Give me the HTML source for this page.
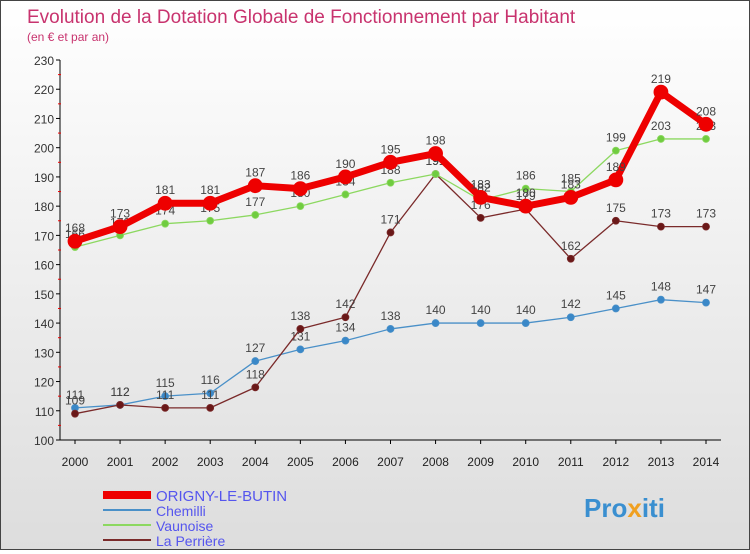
<!DOCTYPE html>
<html><head><meta charset="utf-8"><style>
body{margin:0;width:750px;height:550px;overflow:hidden;font-family:"Liberation Sans",sans-serif}
#wrap{position:relative;width:748px;height:548px;border:1px solid #444;background:linear-gradient(#fff,#ddd)}
</style></head><body>
<div id="wrap">
<svg id="svg" width="748" height="548" xmlns="http://www.w3.org/2000/svg">
<text x="26" y="22" font-size="19" fill="#c8336e">Evolution de la Dotation Globale de Fonctionnement par Habitant</text>
<text x="26" y="40" font-size="12" fill="#c8336e">(en € et par an)</text>
<g id="axes"></g><g id="series"></g>
<g>
<line x1="102" y1="494" x2="150" y2="494" stroke="#e00" stroke-width="8"/>
<text x="155" y="500" font-size="15" fill="#55e">ORIGNY-LE-BUTIN</text>
<line x1="102" y1="509" x2="150" y2="509" stroke="#4a90c8" stroke-width="2"/>
<text x="155" y="515" font-size="14" fill="#55e">Chemilli</text>
<line x1="102" y1="524" x2="150" y2="524" stroke="#8cd860" stroke-width="2"/>
<text x="155" y="530" font-size="14" fill="#55e">Vaunoise</text>
<line x1="102" y1="539" x2="150" y2="539" stroke="#7a2a2a" stroke-width="2"/>
<text x="155" y="545" font-size="14" fill="#55e">La Perrière</text>
</g>
<text x="583" y="516" font-size="26" font-weight="bold" fill="#3a8fd0">Pro<tspan fill="#f0a020">x</tspan>iti</text>
</svg></div>
<script>
const years=[2000,2001,2002,2003,2004,2005,2006,2007,2008,2009,2010,2011,2012,2013,2014];
const yTicks=[100,110,120,130,140,150,160,170,180,190,200,210,220,230];
const origny=[168,173,181,181,187,186,190,195,198,183,180,183,189,219,208];
const chemilli=[111,112,115,116,127,131,134,138,140,140,140,142,145,148,147];
const vaunoise=[166,170,174,175,177,180,184,188,191,182,186,185,199,203,203];
const perriere=[109,112,111,111,118,138,142,171,191,176,179,162,175,173,173];
const NS="http://www.w3.org/2000/svg";
const X=i=>74+i*(705-74)/14;
const Y=v=>439-(v-100)*(380/130);
function mk(t,a,p){const e=document.createElementNS(NS,t);for(const k in a)e.setAttribute(k,a[k]);p.appendChild(e);return e;}
const ax=document.getElementById('axes');
const yl=mk('line',{x1:59,y1:Y(230),x2:59,y2:Y(100),stroke:'#000'},ax);


yTicks.forEach(v=>{
 mk('line',{x1:55,y1:Y(v),x2:59,y2:Y(v),stroke:'#000'},ax);
 if(v<230)mk('line',{x1:57,y1:Y(v+5),x2:60,y2:Y(v+5),stroke:'#e00'},ax);
 const t=mk('text',{x:53,y:Y(v)+5,'font-size':12,'text-anchor':'end',fill:'#333'},ax);t.textContent=v;
 
 
});
const xl=mk('line',{x1:59,y1:Y(100),x2:720,y2:Y(100),stroke:'#000'},ax);


years.forEach((yr,i)=>{
 mk('line',{x1:X(i),y1:Y(100),x2:X(i),y2:Y(100)+4,stroke:'#000'},ax);
 const t=mk('text',{x:X(i),y:465,'font-size':12,'text-anchor':'middle',fill:'#222'},ax);t.textContent=yr;
 
 
});
const sg=document.getElementById('series');
function series(d,name,col,w,r,dot){
 const g=mk('g',{},sg);
 
 
 mk('polyline',{points:d.map((v,i)=>X(i)+','+Y(v)).join(' '),fill:'none',stroke:col,'stroke-width':w,'stroke-linejoin':'round'},g);
 d.forEach((v,i)=>{
  const c=mk('circle',{cx:X(i),cy:Y(v),r:r,fill:dot,stroke:col,'stroke-width':0.8},g);
  
  
  const t=mk('text',{x:X(i),y:Y(v)-9,'font-size':12,'text-anchor':'middle',fill:'#444'},g);t.textContent=v;
  
  
 });
}
series(chemilli,'chemilli','#4a90c8',1.3,3.5,'#3a88c8');
series(perriere,'la-perriere','#7a2a2a',1.3,3.5,'#6a1818');
series(vaunoise,'vaunoise','#8cd860',1.3,3.5,'#70cc40');
series(origny,'origny','#e00',7,7,'#e00');
</script>
</body></html>
